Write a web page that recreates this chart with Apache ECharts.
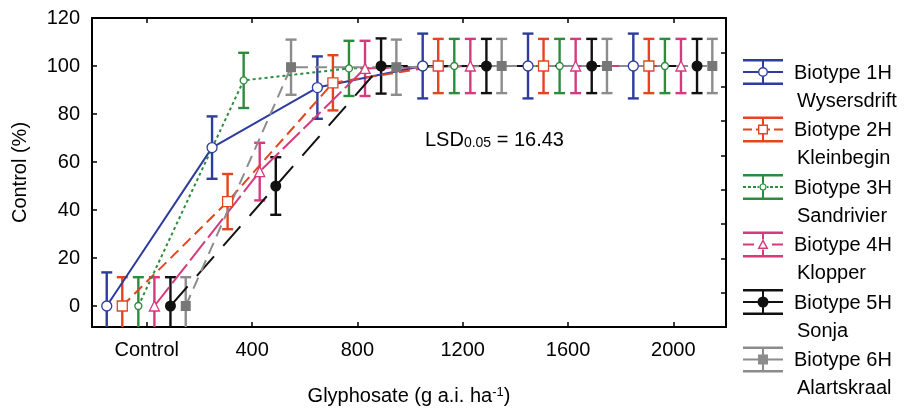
<!DOCTYPE html>
<html><head><meta charset="utf-8">
<script src="https://cdn.jsdelivr.net/npm/echarts@6/dist/echarts.min.js"></script>
<style>html,body{margin:0;padding:0;background:#fff}#c{width:915px;height:412px}</style>
</head><body><div id="c"></div>
<script>
// ---------- data ----------
const doses = [0, 400, 800, 1200, 1600, 2000];
const doseTickLabels = ['Control', '400', '800', '1200', '1600', '2000'];
const controlTicks = [0, 20, 40, 60, 80, 100, 120];
const biotypeNames = ['Biotype 1H', 'Biotype 2H', 'Biotype 3H', 'Biotype 4H', 'Biotype 5H', 'Biotype 6H'];
const biotypeSites = ['Wysersdrift', 'Kleinbegin', 'Sandrivier', 'Klopper', 'Sonja', 'Alartskraal'];
const control1H = [0, 66, 91, 100, 100, 100];
const control2H = [0, 43.5, 93, 100, 100, 100];
const control3H = [0, 94, 99, 100, 100, 100];
const control4H = [0, 56, 99, 100, 100, 100];
const control5H = [0, 50, 100, 100, 100, 100];
const control6H = [0, 99.5, 99.5, 100, 100, 100];
const err1H = [14, 13, 13, 13.5, 13.5, 13.5];
const err2H = [12, 11.5, 11.5, 11.3, 11.3, 11.3];
const err3H = [12, 11.5, 11.5, 11.3, 11.3, 11.3];
const err4H = [12, 12, 11.5, 11.3, 11.3, 11.3];
const err5H = [12, 12, 11.5, 11.3, 11.3, 11.3];
const err6H = [12, 11.5, 11.5, 11.3, 11.3, 11.3];
const lsdText = ['LSD', '0.05', ' = 16.43'];

// ---------- layout / style ----------
const FONT = 'Liberation Sans, Arial, sans-serif';
const FS = 20;
const Y_MIN = -8.75, Y_MAX = 120, X_MIN = -208, X_MAX = 2200;
const DODGE = [-152, -93, -32, 29, 90, 148];
const values = [control1H, control2H, control3H, control4H, control5H, control6H];
const errors = [err1H, err2H, err3H, err4H, err5H, err6H];
const styles = [
  {color: '#2d3c9e', symbol: 'circle', size: 10, open: true, dash: 'solid'},
  {color: '#e2451f', symbol: 'rect', size: 10, open: true, dash: [11, 6]},
  {color: '#2e8b3e', symbol: 'circle', size: 7, open: true, dash: [3, 3]},
  {color: '#d63a7e', symbol: 'triangle', size: 10, open: true, dash: [24, 5]},
  {color: '#111111', symbol: 'circle', size: 11, open: false, dash: [26, 14]},
  {color: '#8c8c8c', symbol: 'rect', size: 10, open: false, dash: [12, 7], fill: '#777777'}
];

// legend icons: caps + stem + middle line + marker (40 x 56 box, error bar in top 26)
const CAPS = 'M0 0H40V2.6H0Z M0 23.4H40V26H0Z M39.95 55.95H40V56H39.95Z ';
function stem(g) { return 'M19 0H21V' + (13 - g) + 'H19Z M19 ' + (13 + g) + 'H21V26H19Z '; }
const ringCircle = (r, ri) => 'M' + (20 + r) + ' 13A' + r + ' ' + r + ' 0 1 1 ' + (20 - r) + ' 13A' + r + ' ' + r + ' 0 1 1 ' + (20 + r) + ' 13Z ' +
  'M' + (20 + ri) + ' 13A' + ri + ' ' + ri + ' 0 1 0 ' + (20 - ri) + ' 13A' + ri + ' ' + ri + ' 0 1 0 ' + (20 + ri) + ' 13Z ';
const fullCircle = r => 'M' + (20 + r) + ' 13A' + r + ' ' + r + ' 0 1 1 ' + (20 - r) + ' 13A' + r + ' ' + r + ' 0 1 1 ' + (20 + r) + ' 13Z ';
const legendIcons = [
  'path://' + CAPS + stem(5) + 'M0 12H15V14H0Z M25 12H40V14H25Z ' + ringCircle(5, 3.6),
  'path://' + CAPS + stem(5) + 'M0 12H9V14H0Z M13 12H15V14H13Z M25 12H27V14H25Z M31 12H40V14H31Z M15 8H25V18H15Z M16.4 9.4V16.6H23.6V9.4Z',
  'path://' + CAPS + stem(3.5) + 'M0 12H3V14H0Z M5 12H8V14H5Z M10 12H13V14H10Z M14.5 12H16V14H14.5Z M24 12H25.5V14H24Z M27 12H30V14H27Z M32 12H35V14H32Z M37 12H40V14H37Z ' + ringCircle(3.6, 2.4),
  'path://' + CAPS + stem(5) + 'M0 12H11V14H0Z M29 12H40V14H29Z M20 7.5L25.5 17.5H14.5Z M20 10.4L16.9 16H23.1Z',
  'path://' + CAPS + stem(5) + 'M0 12H40V14H0Z ' + fullCircle(5.5),
  'path://' + CAPS + stem(5) + 'M0 12H40V14H0Z M15 8H25V18H15Z'
];

const series = [];
values.forEach((vals, i) => {
  const st = styles[i];
  series.push({
    type: 'line', name: biotypeNames[i], z: 4,
    data: doses.map((d, j) => [d + DODGE[i], vals[j]]),
    symbol: st.symbol, symbolSize: st.size, showSymbol: true, showAllSymbol: true,
    lineStyle: {color: st.color, width: 2, type: st.dash},
    itemStyle: st.open ? {color: '#ffffff', borderColor: st.color, borderWidth: 1.3}
                       : {color: st.fill || st.color, borderColor: st.fill || st.color, borderWidth: 0},
    emphasis: {disabled: true}, clip: true, animation: false
  });
});
values.forEach((vals, i) => {
  const st = styles[i];
  series.push({
    type: 'custom', name: biotypeNames[i], z: 2, animation: false,
    data: doses.map((d, j) => [d + DODGE[i], vals[j] - errors[i][j], vals[j] + errors[i][j]]),
    renderItem: function (params, api) {
      const x = api.value(0), lo = api.value(1), hi = api.value(2);
      const top = api.coord([x, hi]);
      const bot = api.coord([x, Math.max(lo, Y_MIN)]);
      const ls = {stroke: st.color, lineWidth: 2.4};
      const ch = [
        {type: 'line', shape: {x1: top[0], y1: top[1], x2: bot[0], y2: bot[1]}, style: ls},
        {type: 'line', shape: {x1: top[0] - 5.5, y1: top[1], x2: top[0] + 5.5, y2: top[1]}, style: ls}
      ];
      if (lo >= Y_MIN) ch.push({type: 'line', shape: {x1: bot[0] - 5.5, y1: bot[1], x2: bot[0] + 5.5, y2: bot[1]}, style: ls});
      return {type: 'group', children: ch};
    }
  });
});

const axisLineStyle = {show: true, onZero: false, lineStyle: {color: '#000', width: 2}};
const option = {
  backgroundColor: '#ffffff',
  animation: false,
  grid: {left: 92, right: 189, top: 18, bottom: 85},
  xAxis: [
    {type: 'value', position: 'bottom', min: X_MIN, max: X_MAX,
     axisLine: axisLineStyle,
     axisTick: {show: true, inside: true, length: 5, customValues: doses, lineStyle: {color: '#000', width: 1.5}},
     axisLabel: {customValues: doses, formatter: v => doseTickLabels[doses.indexOf(v)], color: '#000', fontSize: FS, fontFamily: FONT, margin: 13},
     splitLine: {show: false},
     name: 'Glyphosate (g a.i. ha{sup|-1})', nameLocation: 'middle', nameGap: 59,
     nameTextStyle: {color: '#000', fontSize: FS, fontFamily: FONT,
       rich: {sup: {fontSize: 13, fontFamily: FONT, color: '#000', verticalAlign: 'top'}}}},
    {type: 'value', position: 'top', min: X_MIN, max: X_MAX,
     axisLine: axisLineStyle,
     axisTick: {show: true, inside: true, length: 5, customValues: doses, lineStyle: {color: '#000', width: 1.5}},
     axisLabel: {show: false}, splitLine: {show: false}}
  ],
  yAxis: [
    {type: 'value', position: 'left', min: Y_MIN, max: Y_MAX,
     axisLine: axisLineStyle,
     axisTick: {show: true, inside: true, length: 5, customValues: controlTicks, lineStyle: {color: '#000', width: 1.5}},
     axisLabel: {customValues: controlTicks, color: '#000', fontSize: FS, fontFamily: FONT, margin: 12},
     splitLine: {show: false},
     name: 'Control (%)', nameLocation: 'middle', nameRotate: 90, nameGap: 62,
     nameTextStyle: {color: '#000', fontSize: FS, fontFamily: FONT}},
    {type: 'value', position: 'right', min: 0, max: 9, interval: 1,
     axisLine: axisLineStyle,
     axisTick: {show: true, inside: true, length: 5, lineStyle: {color: '#000', width: 1.5}},
     axisLabel: {show: false}, splitLine: {show: false}}
  ],
  legend: {
    orient: 'vertical', left: 743, top: 59, padding: 0,
    itemWidth: 40, itemHeight: 56, itemGap: 1.5, selectedMode: false,
    data: biotypeNames.map((n, i) => ({
      name: n, icon: legendIcons[i],
      itemStyle: {color: styles[i].color, borderColor: styles[i].color, borderWidth: 0}
    })),
    formatter: name => '{a|' + name + '}\n{b|' + biotypeSites[biotypeNames.indexOf(name)] + '}',
    textStyle: {color: '#000', fontSize: FS, fontFamily: FONT, padding: [0, 0, 0, 6],
      rich: {a: {fontSize: FS, lineHeight: 28, fontFamily: FONT, color: '#000'},
             b: {fontSize: FS, lineHeight: 28, fontFamily: FONT, color: '#000', padding: [0, 0, 0, 3]}}}
  },
  graphic: [{
    type: 'text', left: 425, top: 130, z: 10,
    style: {
      text: '{m|' + lsdText[0] + '}{s|' + lsdText[1] + '}{m|' + lsdText[2] + '}',
      rich: {m: {fontSize: FS, fontFamily: FONT, fill: '#000', lineHeight: 22, verticalAlign: 'bottom'},
             s: {fontSize: 14, fontFamily: FONT, fill: '#000', lineHeight: 12, verticalAlign: 'bottom'}}
    }
  }],
  series: series
};
const chart = echarts.init(document.getElementById('c'), null, {renderer: 'canvas'});
chart.setOption(option);
</script>
</body></html>
